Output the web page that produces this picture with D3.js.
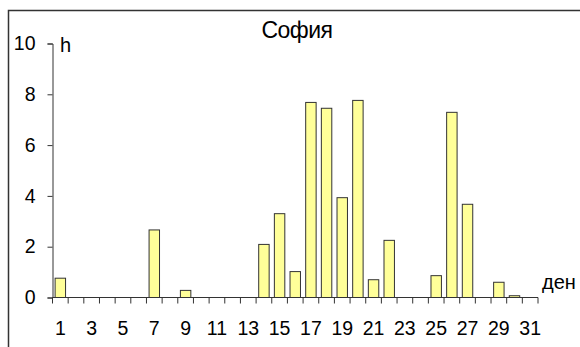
<!DOCTYPE html>
<html>
<head>
<meta charset="utf-8">
<script src="https://cdn.jsdelivr.net/npm/d3@7"></script>
<style>
  html, body { margin: 0; padding: 0; background: #fff; }
  svg { display: block; font-family: "Liberation Sans", Arial, sans-serif; }
</style>
</head>
<body>
<svg id="chart" width="580" height="347"></svg>
<script>
// Daily sunshine hours, Sofia
const days = d3.range(1, 32);
const hours = [0.76, 0, 0, 0, 0, 0, 2.66, 0, 0.28, 0, 0, 0, 0, 2.09, 3.3,
               1.02, 7.68, 7.45, 3.93, 7.76, 0.7, 2.25, 0, 0, 0.86, 7.29, 3.67, 0, 0.6, 0.07, 0];
const yTicks = [0, 2, 4, 6, 8, 10];
const xTickLabels = days.filter(d => d % 2 === 1);

const svg = d3.select("#chart");
const plotLeft = 52.5, plotRight = 538, plotTop = 43.5, plotBottom = 297.5;
const labelFont = "Liberation Sans, Arial, sans-serif";

// frame
svg.append("rect")
  .attr("x", 8.5).attr("y", 10.5)
  .attr("width", 600).attr("height", 400)
  .attr("fill", "none").attr("stroke", "#333").attr("stroke-width", 1.5);

const x = d3.scaleBand().domain(days).range([plotLeft, plotRight]).paddingInner(1/3).paddingOuter(1/6);
const xb = d3.scaleLinear().domain([0, 31]).range([plotLeft, plotRight]);
const y = d3.scaleLinear().domain([0, 10]).range([plotBottom, plotTop]);

// bars
svg.append("g").selectAll("rect").data(days).join("rect")
  .attr("x", d => x(d))
  .attr("width", x.bandwidth())
  .attr("y", (d, i) => y(hours[i]))
  .attr("height", (d, i) => y(0) - y(hours[i]))
  .attr("fill", "#ffff99")
  .attr("stroke", "#333")
  .attr("stroke-width", 1);

// y axis
const yAxis = svg.append("g").attr("transform", `translate(${plotLeft},0)`)
  .call(d3.axisLeft(y).tickValues(yTicks).tickSize(5).tickPadding(12).tickFormat(d3.format("d")));
yAxis.select(".domain").attr("stroke", "#333");
yAxis.selectAll(".tick line").attr("stroke", "#333");
yAxis.selectAll("text").attr("font-size", 19.5).attr("fill", "#000").attr("font-family", labelFont);

// x axis: ticks at band boundaries, labels on odd days
const xAxis = svg.append("g").attr("transform", `translate(0,${plotBottom})`);
xAxis.append("line").attr("x1", plotLeft).attr("x2", plotRight).attr("stroke", "#333");
xAxis.selectAll("line.t").data(d3.range(0, 32)).join("line").attr("class", "t")
  .attr("x1", d => xb(d)).attr("x2", d => xb(d)).attr("y1", 0).attr("y2", 6)
  .attr("stroke", "#333");
xAxis.selectAll("text").data(xTickLabels).join("text")
  .attr("x", d => x(d) + x.bandwidth() / 2)
  .attr("y", 37)
  .attr("text-anchor", "middle")
  .attr("font-size", 19.5)
  .attr("font-family", labelFont)
  .text(d => d);

// labels
svg.append("text").attr("x", 297).attr("y", 38).attr("text-anchor", "middle")
  .attr("font-size", 23).attr("letter-spacing", -0.5).text("София");
svg.append("text").attr("x", 60).attr("y", 52).attr("font-size", 20).text("h");
svg.append("text").attr("x", 542).attr("y", 289).attr("font-size", 20).text("ден");
</script>
</body>
</html>
